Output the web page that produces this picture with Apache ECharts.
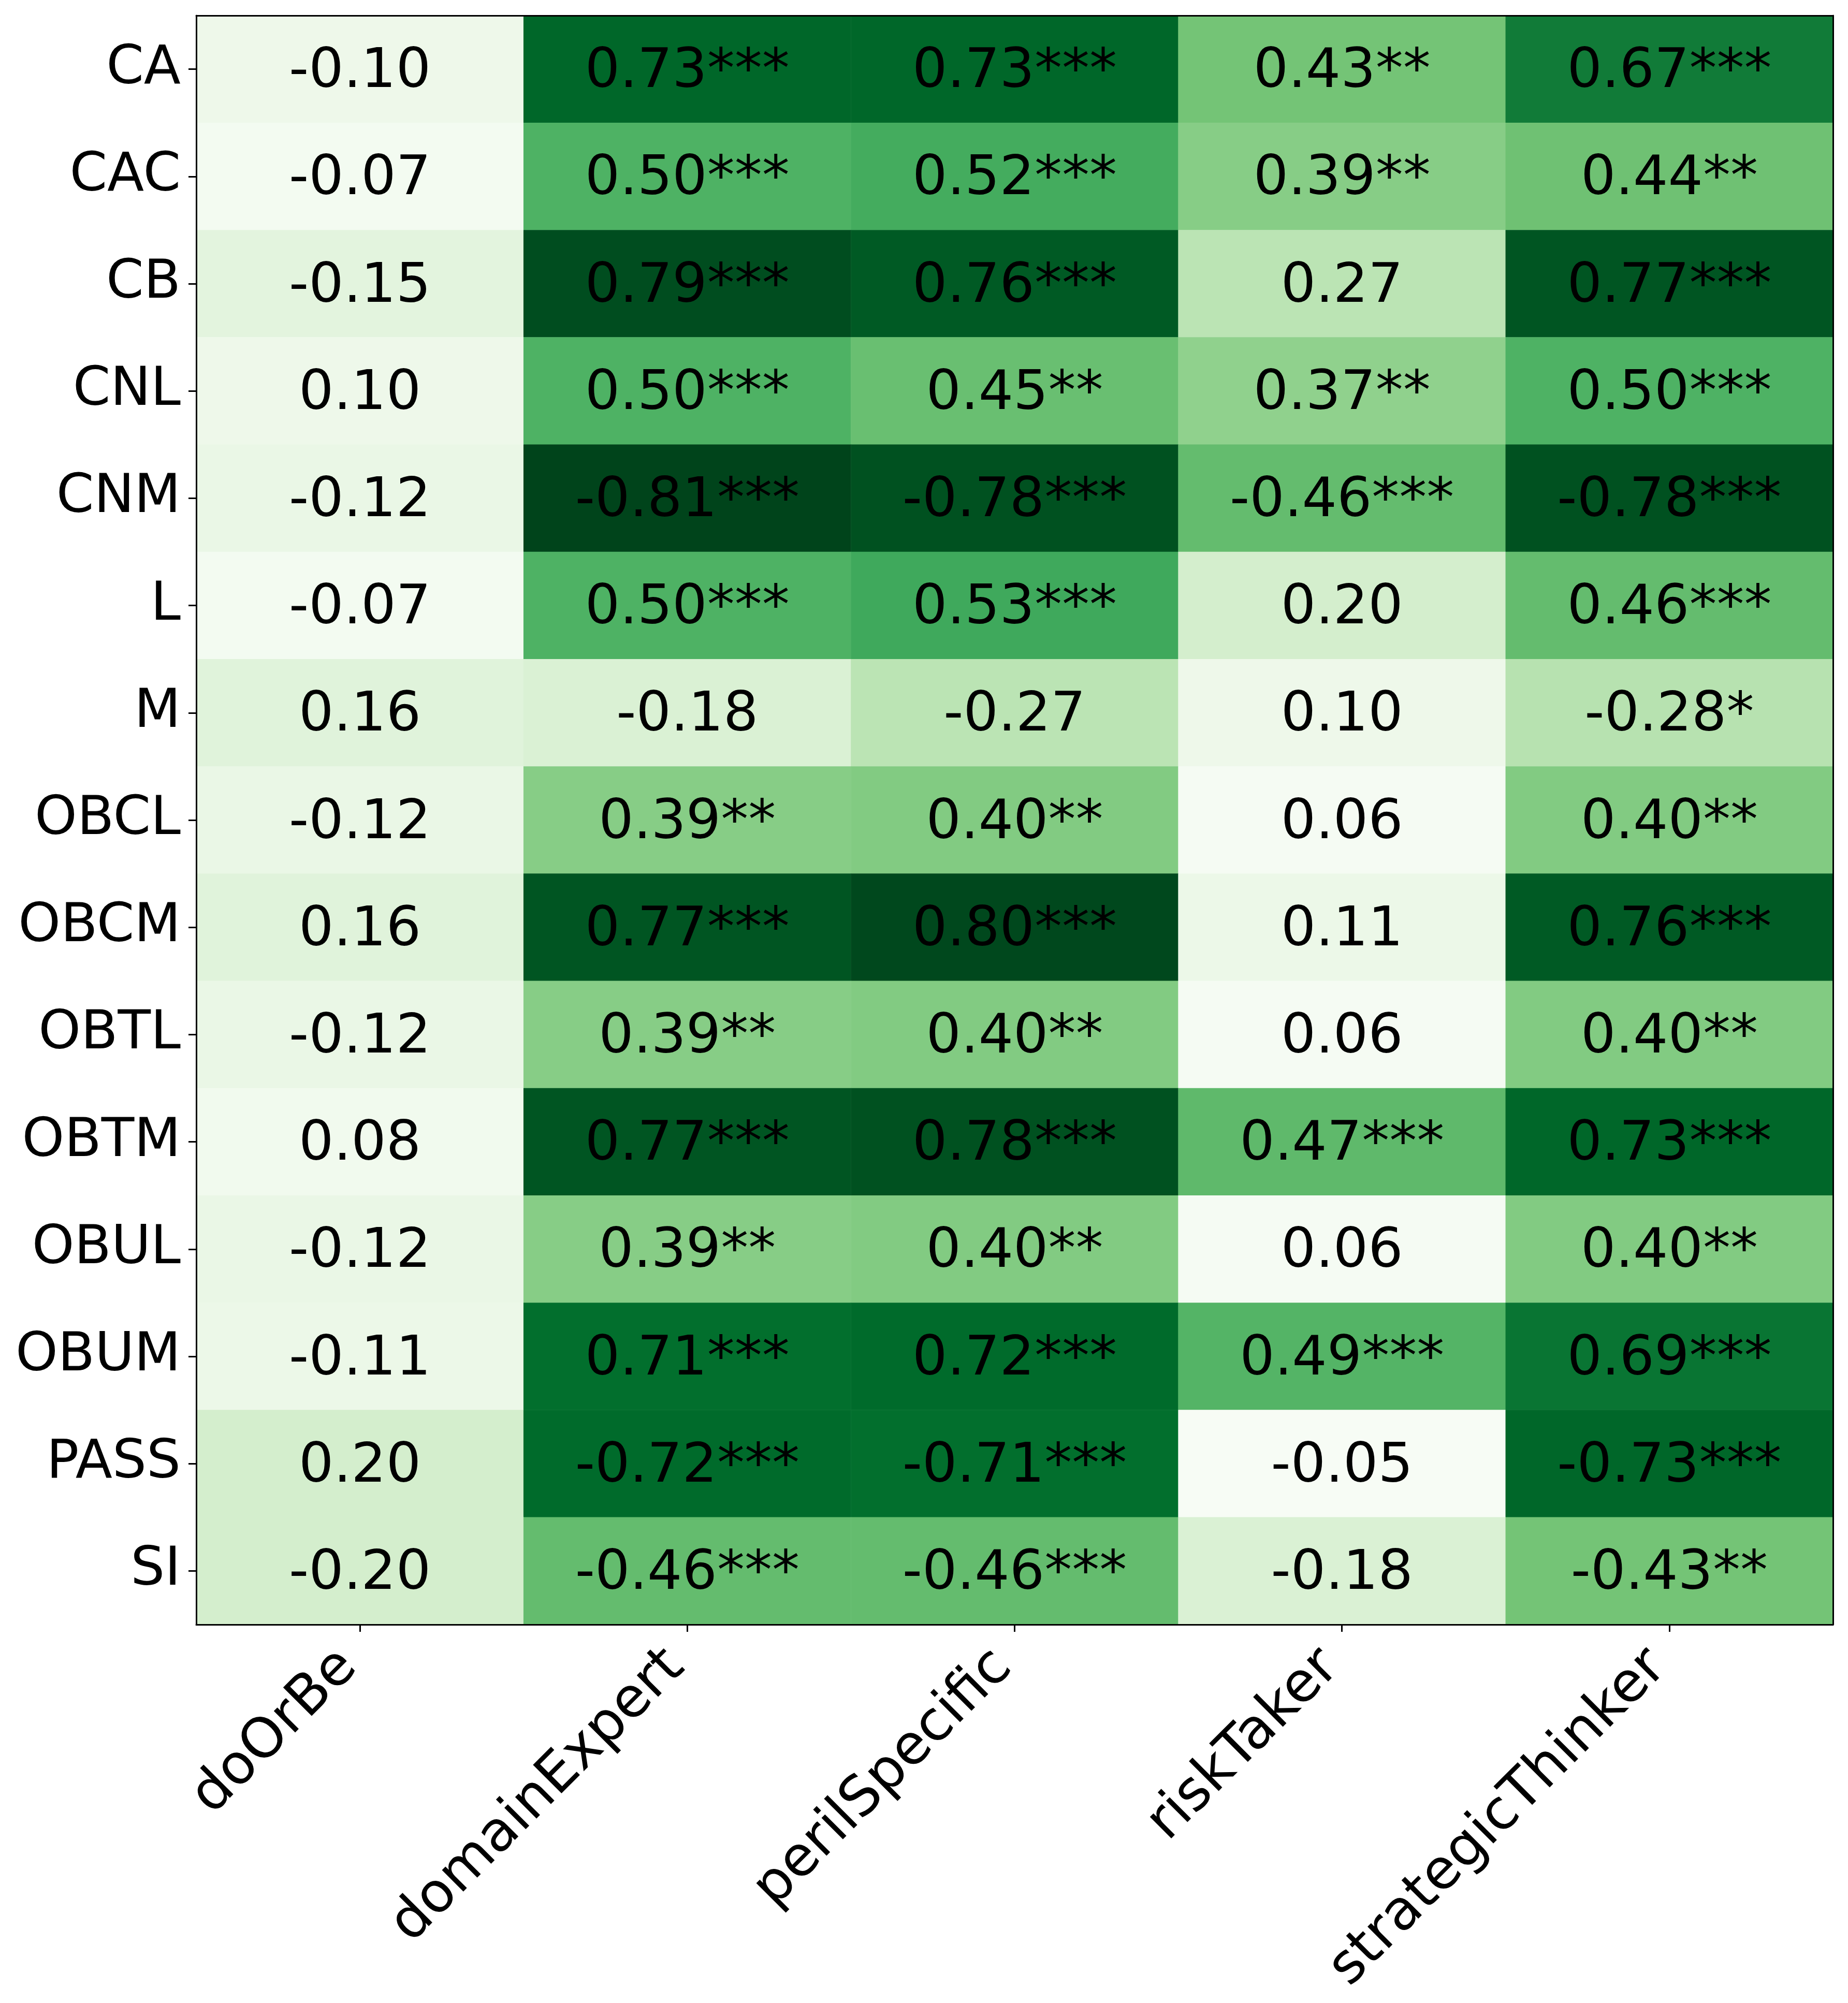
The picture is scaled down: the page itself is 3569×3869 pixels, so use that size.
<!DOCTYPE html>
<html>
<head>
<meta charset="utf-8">
<script src="https://cdn.jsdelivr.net/npm/echarts@6/dist/echarts.min.js"></script>
<style>
html,body{margin:0;padding:0;background:#fff;}
#chart{width:3569px;height:3869px;}
</style>
</head>
<body>
<div id="chart"></div>
<script>
const columns = ['doOrBe', 'domainExpert', 'perilSpecific', 'riskTaker', 'strategicThinker'];
const rows = ['CA', 'CAC', 'CB', 'CNL', 'CNM', 'L', 'M', 'OBCL', 'OBCM', 'OBTL', 'OBTM', 'OBUL', 'OBUM', 'PASS', 'SI'];

// correlation values, one array per row (columns in order above)
const values = [
  [-0.10, 0.73, 0.73, 0.43, 0.67],
  [-0.07, 0.50, 0.52, 0.39, 0.44],
  [-0.15, 0.79, 0.76, 0.27, 0.77],
  [0.10, 0.50, 0.45, 0.37, 0.50],
  [-0.12, -0.81, -0.78, -0.46, -0.78],
  [-0.07, 0.50, 0.53, 0.20, 0.46],
  [0.16, -0.18, -0.27, 0.10, -0.28],
  [-0.12, 0.39, 0.40, 0.06, 0.40],
  [0.16, 0.77, 0.80, 0.11, 0.76],
  [-0.12, 0.39, 0.40, 0.06, 0.40],
  [0.08, 0.77, 0.78, 0.47, 0.73],
  [-0.12, 0.39, 0.40, 0.06, 0.40],
  [-0.11, 0.71, 0.72, 0.49, 0.69],
  [0.20, -0.72, -0.71, -0.05, -0.73],
  [-0.20, -0.46, -0.46, -0.18, -0.43]
];

// significance stars
const stars = [
  ['', '***', '***', '**', '***'],
  ['', '***', '***', '**', '**'],
  ['', '***', '***', '', '***'],
  ['', '***', '**', '**', '***'],
  ['', '***', '***', '***', '***'],
  ['', '***', '***', '', '***'],
  ['', '', '', '', '*'],
  ['', '**', '**', '', '**'],
  ['', '***', '***', '', '***'],
  ['', '**', '**', '', '**'],
  ['', '***', '***', '***', '***'],
  ['', '**', '**', '', '**'],
  ['', '***', '***', '***', '***'],
  ['', '***', '***', '', '***'],
  ['', '***', '***', '', '**']
];

const greens = ['#f7fcf5', '#e5f5e0', '#c7e9c0', '#a1d99b', '#74c476', '#41ab5d', '#238b45', '#006d2c', '#00441b'];

const data = [];
let minAbs = Infinity, maxAbs = 0;
rows.forEach((r, i) => {
  columns.forEach((c, j) => {
    const v = values[i][j];
    const a = Math.abs(v);
    minAbs = Math.min(minAbs, a);
    maxAbs = Math.max(maxAbs, a);
    data.push([j, i, a, v, v.toFixed(2) + stars[i][j]]);
  });
});

const FONT = 'DejaVu Sans';
const chart = echarts.init(document.getElementById('chart'), null, {renderer: 'canvas'});
const lineStyle = {color: '#000', width: 3};
chart.setOption({
  backgroundColor: '#fff',
  animation: false,
  grid: {left: 379, right: 29, top: 30, bottom: 731, containLabel: false},
  xAxis: [{
    type: 'category',
    data: columns,
    position: 'bottom',
    z: 10,
    axisLine: {show: true, lineStyle: lineStyle},
    axisTick: {show: true, alignWithLabel: true, length: 14, lineStyle: lineStyle},
    axisLabel: {
      rotate: 45, fontFamily: FONT, fontSize: 107, color: '#000',
      margin: 44, padding: [0, 31, 0, 0], interval: 0
    },
    splitLine: {show: false}
  }, {
    type: 'category',
    data: columns,
    position: 'top',
    z: 10,
    axisLine: {show: true, lineStyle: lineStyle},
    axisTick: {show: false},
    axisLabel: {show: false}
  }],
  yAxis: [{
    type: 'category',
    data: rows,
    inverse: true,
    position: 'left',
    z: 10,
    axisLine: {show: true, lineStyle: lineStyle},
    axisTick: {show: true, alignWithLabel: true, length: 15, lineStyle: lineStyle},
    axisLabel: {fontFamily: FONT, fontSize: 104, color: '#000', margin: 30, interval: 0, padding: [14, 0, 0, 0]},
    splitLine: {show: false}
  }, {
    type: 'category',
    data: rows,
    inverse: true,
    position: 'right',
    z: 10,
    axisLine: {show: true, lineStyle: lineStyle},
    axisTick: {show: false},
    axisLabel: {show: false}
  }],
  visualMap: {
    show: false,
    type: 'continuous',
    dimension: 2,
    min: minAbs,
    max: maxAbs,
    inRange: {color: greens}
  },
  series: [{
    type: 'heatmap',
    data: data,
    itemStyle: {borderWidth: 0},
    label: {
      show: true,
      fontFamily: FONT,
      fontSize: 106,
      color: '#000',
      offset: [0, 7],
      formatter: p => p.data[4]
    },
    emphasis: {disabled: true}
  }]
});
</script>
</body>
</html>
